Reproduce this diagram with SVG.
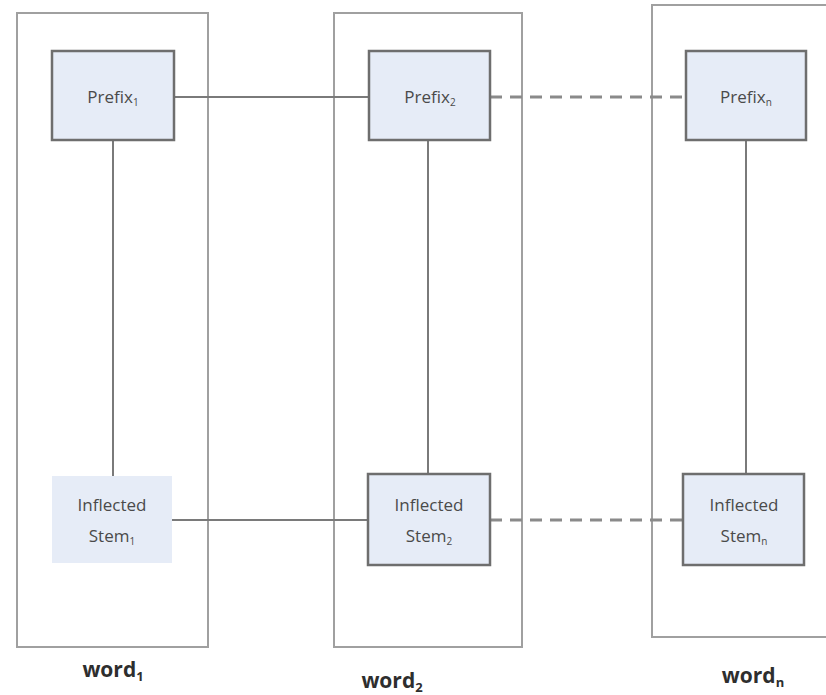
<svg xmlns="http://www.w3.org/2000/svg" width="826" height="695" viewBox="0 0 826 695">
  <style>
    .word { fill: none; stroke: #a0a0a0; stroke-width: 2; }
    .node { fill: #e6ecf7; stroke: #6e6e6e; stroke-width: 2.5; }
    .plain { fill: #e6ecf7; stroke: none; }
    .link { stroke: #7a7a7a; stroke-width: 2; fill: none; }
    .dash { stroke: #8a8a8a; stroke-width: 3; stroke-dasharray: 12 8; fill: none; }
    .lbl { font-family: "Open Sans", "Liberation Sans", sans-serif; font-size: 17px; fill: #4a4a4a; text-anchor: middle; }
    .wlbl { font-family: "Open Sans", "Liberation Sans", sans-serif; font-size: 21px; font-weight: bold; fill: #2e2e2e; text-anchor: middle; }
    .sub { font-size: 10px; }
    .wsub { font-size: 13px; }
  </style>
  <rect width="826" height="695" fill="#ffffff"/>

  <!-- word frames -->
  <g id="word1">
    <rect class="word" x="17" y="13" width="191" height="634"/>
    <text class="wlbl" x="113" y="677">word<tspan class="wsub" dy="4">1</tspan></text>
  </g>
  <g id="word2">
    <rect class="word" x="334" y="13" width="188" height="634"/>
    <text class="wlbl" x="392" y="688">word<tspan class="wsub" dy="4">2</tspan></text>
  </g>
  <g id="wordn">
    <rect class="word" x="652" y="5" width="190" height="632"/>
    <text class="wlbl" x="753" y="683">word<tspan class="wsub" dy="4">n</tspan></text>
  </g>

  <!-- connectors -->
  <g id="connectors">
    <line class="link" x1="174" y1="97" x2="369" y2="97"/>
    <line class="dash" x1="490" y1="97" x2="686" y2="97"/>
    <line class="link" x1="172" y1="520" x2="368" y2="520"/>
    <line class="dash" x1="490" y1="520" x2="683" y2="520"/>
    <line class="link" x1="113" y1="140" x2="113" y2="476"/>
    <line class="link" x1="428" y1="140" x2="428" y2="474"/>
    <line class="link" x1="746" y1="140" x2="746" y2="474"/>
  </g>

  <!-- prefix nodes -->
  <g id="prefix1">
    <rect class="node" x="52" y="51" width="122" height="89"/>
    <text class="lbl" x="113" y="103">Prefix<tspan class="sub" dy="3">1</tspan></text>
  </g>
  <g id="prefix2">
    <rect class="node" x="369" y="51" width="121" height="89"/>
    <text class="lbl" x="430" y="103">Prefix<tspan class="sub" dy="3">2</tspan></text>
  </g>
  <g id="prefixn">
    <rect class="node" x="686" y="51" width="120" height="89"/>
    <text class="lbl" x="746" y="103">Prefix<tspan class="sub" dy="3">n</tspan></text>
  </g>

  <!-- inflected stem nodes -->
  <g id="stem1">
    <rect class="plain" x="52" y="476" width="120" height="87"/>
    <text class="lbl" x="112" y="511">Inflected</text>
    <text class="lbl" x="112" y="542">Stem<tspan class="sub" dy="3">1</tspan></text>
  </g>
  <g id="stem2">
    <rect class="node" x="368" y="474" width="122" height="91"/>
    <text class="lbl" x="429" y="511">Inflected</text>
    <text class="lbl" x="429" y="542">Stem<tspan class="sub" dy="3">2</tspan></text>
  </g>
  <g id="stemn">
    <rect class="node" x="683" y="474" width="121" height="91"/>
    <text class="lbl" x="744" y="511">Inflected</text>
    <text class="lbl" x="744" y="542">Stem<tspan class="sub" dy="3">n</tspan></text>
  </g>
</svg>
